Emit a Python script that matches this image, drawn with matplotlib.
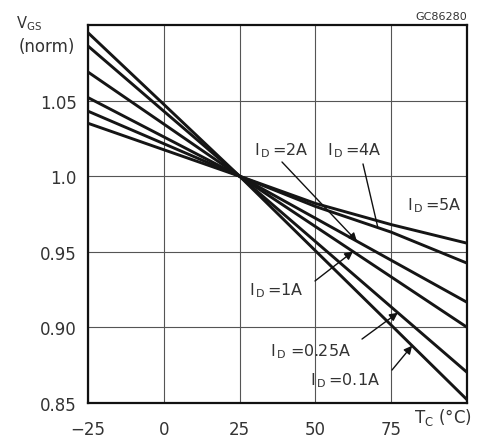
import numpy as np
import matplotlib
matplotlib.use("Agg")
import matplotlib.pyplot as plt

plt.rcParams['font.family'] = ['DejaVu Sans']
plt.rcParams['mathtext.fontset'] = 'dejavusans'

# Data
temps = [-25, 0, 25, 50, 75, 100]
vgs_0p1A = [1.0949, 1.0475, 1.0, 0.9507, 0.9015, 0.8522]
vgs_0p25A = [1.0861, 1.043, 1.0, 0.9568, 0.9135, 0.8703]
vgs_1A = [1.0689, 1.0345, 1.0, 0.9667, 0.9334, 0.9001]
vgs_2A = [1.052, 1.026, 1.0, 0.9722, 0.9444, 0.9166]
vgs_4A = [1.043, 1.0215, 1.0, 0.980, 0.963, 0.9425]
vgs_5A = [1.035, 1.0175, 1.0, 0.982, 0.968, 0.9557]

xticks = [-25, 0, 25, 50, 75]
xticklabels = ['\u221225', '0', '25', '50', '75']
yticks = [0.85, 0.90, 0.95, 1.0, 1.05]
yticklabels = ['0.85', '0.90', '0.95', '1.0', '1.05']

W, H = 488, 439
fig = plt.figure(figsize=(W / 100, H / 100), dpi=100)
ax = fig.add_axes([88 / W, 1 - 404 / H, (467 - 88) / W, (404 - 26) / H])

series = [vgs_0p1A, vgs_0p25A, vgs_1A, vgs_2A, vgs_4A, vgs_5A]
for s in series:
    ax.plot(temps, s, color='#151515', lw=2.1, solid_capstyle='butt', zorder=3)

ax.set_xlim(-25, 100)
ax.set_ylim(0.85, 1.10)
ax.set_xticks(xticks)
ax.set_xticklabels(xticklabels)
ax.set_yticks(yticks)
ax.set_yticklabels(yticklabels)
ax.tick_params(axis='both', length=0, labelsize=12, colors='#333333')
ax.tick_params(axis='y', pad=8)
ax.tick_params(axis='x', pad=12)
ax.grid(True, color='#555555', lw=0.8, zorder=1)
for sp in ax.spines.values():
    sp.set_linewidth(1.6)
    sp.set_color('#111111')

fs = 11.5
tc = '#333333'
# Labels with arrows: (text, text pos, arrow start, arrow tip x, series, arrow)
labels = [
    ('I$_{\\,\\rm D}\\,$=2A', (38.65, 1.0173), (38.98, 1.0094), 63.7, vgs_2A, True),
    ('I$_{\\,\\rm D}\\,$=4A', (62.7, 1.0173), (65.7, 1.0081), 70.6, vgs_4A, False),
    ('I$_{\\,\\rm D}\\,$=1A', (37.0, 0.9247), (49.87, 0.9307), 62.4, vgs_1A, True),
    ('I$_{\\,\\rm D}\\;$=0.25A', (48.55, 0.8844), (65.37, 0.8923), 77.2, vgs_0p25A, True),
    ('I$_{\\,\\rm D}\\,$=0.1A', (59.77, 0.8652), (75.26, 0.8718), 81.9, vgs_0p1A, True),
]
for txt, tpos, start, tipx, s, head in labels:
    ax.text(tpos[0], tpos[1], txt, fontsize=fs, ha='center', va='center', color=tc, zorder=5)
    tip = (tipx, float(np.interp(tipx, temps, s)))
    if head:
        ax.annotate('', xy=tip, xytext=start,
                    arrowprops=dict(arrowstyle='-|>', color='#111111', lw=1.0,
                                    mutation_scale=12, shrinkA=0, shrinkB=0), zorder=5)
    else:
        ax.annotate('', xy=tip, xytext=start,
                    arrowprops=dict(arrowstyle='-', color='#111111', lw=1.0,
                                    shrinkA=0, shrinkB=0), zorder=5)

ax.text(89.4, 0.981, 'I$_{\\,\\rm D}\\,$=5A', fontsize=fs, ha='center', va='center', color=tc, zorder=5)

# Axis titles
fig.text(16 / W, 1 - 24 / H, 'V$_{\\rm GS}$', fontsize=10.5, ha='left', va='center', color=tc)
fig.text(47 / W, 1 - 47 / H, '(norm)', fontsize=12, ha='center', va='center', color=tc)
fig.text(443 / W, 1 - 418 / H, 'T$_{\\rm C}$ (\u00b0C)', fontsize=12, ha='center', va='center', color=tc)
fig.text(467 / W, 1 - 17 / H, 'GC86280', fontsize=8, ha='right', va='center', color=tc)

fig.savefig('out.png', dpi=100)
